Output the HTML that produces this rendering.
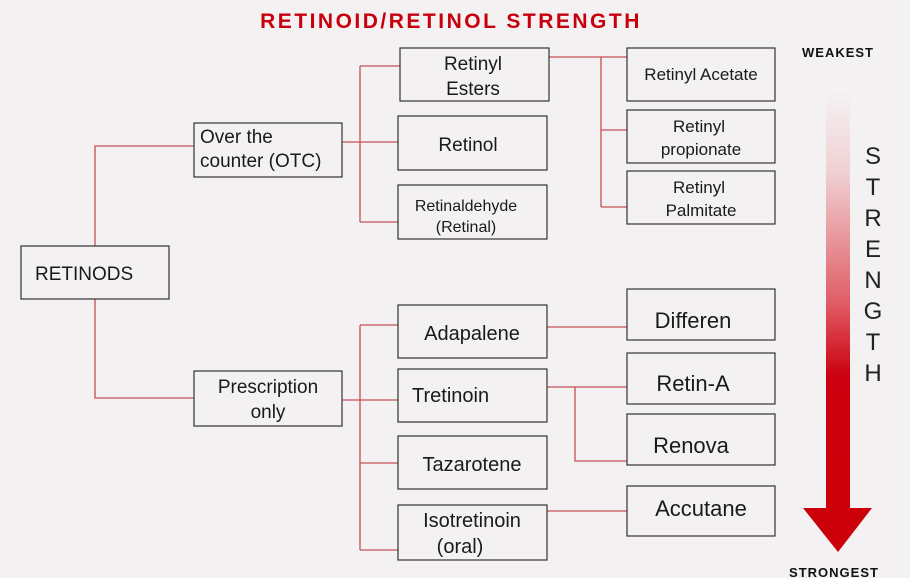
<!DOCTYPE html>
<html><head><meta charset="utf-8"><style>
html,body{margin:0;padding:0;background:#f3f1f2;}
svg{display:block;font-family:"Liberation Sans","DejaVu Sans",sans-serif;}
</style></head><body>
<svg width="910" height="578" viewBox="0 0 910 578" xmlns="http://www.w3.org/2000/svg">
<defs>
<linearGradient id="g" x1="0" y1="0" x2="0" y2="1">
<stop offset="0" stop-color="#f5f3f4"/>
<stop offset="0.2" stop-color="#f0d0d3"/>
<stop offset="0.5" stop-color="#e06068"/>
<stop offset="0.68" stop-color="#cc0010"/>
<stop offset="1" stop-color="#cc0008"/>
</linearGradient>
</defs>
<rect width="910" height="578" fill="#f3f1f2"/>
<text x="451" y="28" text-anchor="middle" font-size="21" font-weight="bold" fill="#c8000e" letter-spacing="2.5">RETINOID/RETINOL STRENGTH</text>
<g stroke="#c45055" stroke-width="1.3" fill="none">
<path d="M95 246V146H194M95 299V398H194"/>
<path d="M342 142H398M360 66V222M360 66H400M360 222H398"/>
<path d="M342 400H398M360 325V550M360 325H398M360 463H398M360 550H398"/>
<path d="M549 57H627M601 57V207M601 130H627M601 207H627"/>
<path d="M547 327H627M547 387H627M575 387V461H627M547 511H627"/>
</g>
<g fill="#f3f1f2" stroke="#333" stroke-width="1.2">
<rect x="21" y="246" width="148" height="53"/>
<rect x="194" y="123" width="148" height="54"/>
<rect x="194" y="371" width="148" height="55"/>
<rect x="400" y="48" width="149" height="53"/>
<rect x="398" y="116" width="149" height="54"/>
<rect x="398" y="185" width="149" height="54"/>
<rect x="398" y="305" width="149" height="53"/>
<rect x="398" y="369" width="149" height="53"/>
<rect x="398" y="436" width="149" height="53"/>
<rect x="398" y="505" width="149" height="55"/>
<rect x="627" y="48" width="148" height="53"/>
<rect x="627" y="110" width="148" height="53"/>
<rect x="627" y="171" width="148" height="53"/>
<rect x="627" y="289" width="148" height="51"/>
<rect x="627" y="353" width="148" height="51"/>
<rect x="627" y="414" width="148" height="51"/>
<rect x="627" y="486" width="148" height="50"/>
</g>
<g fill="#1a1a1a" font-size="19">
<text x="35" y="280">RETINODS</text>
<text x="200" y="143">Over the</text>
<text x="200" y="167">counter (OTC)</text>
<text x="268" y="393" text-anchor="middle">Prescription</text>
<text x="268" y="418" text-anchor="middle">only</text>
<text x="473" y="70" text-anchor="middle">Retinyl</text>
<text x="473" y="95" text-anchor="middle">Esters</text>
<text x="468" y="151" text-anchor="middle">Retinol</text>
<text x="466" y="211" text-anchor="middle" font-size="16">Retinaldehyde</text>
<text x="466" y="232" text-anchor="middle" font-size="16">(Retinal)</text>
<text x="472" y="340" text-anchor="middle" font-size="20">Adapalene</text>
<text x="412" y="402" font-size="20">Tretinoin</text>
<text x="472" y="471" text-anchor="middle" font-size="20">Tazarotene</text>
<text x="472" y="527" text-anchor="middle" font-size="20">Isotretinoin</text>
<text x="460" y="553" text-anchor="middle" font-size="20">(oral)</text>
<text x="701" y="80" text-anchor="middle" font-size="17">Retinyl Acetate</text>
<text x="699" y="132" text-anchor="middle" font-size="17">Retinyl</text>
<text x="701" y="155" text-anchor="middle" font-size="17">propionate</text>
<text x="699" y="193" text-anchor="middle" font-size="17">Retinyl</text>
<text x="701" y="216" text-anchor="middle" font-size="17">Palmitate</text>
<text x="693" y="328" text-anchor="middle" font-size="22">Differen</text>
<text x="693" y="391" text-anchor="middle" font-size="22">Retin-A</text>
<text x="691" y="453" text-anchor="middle" font-size="22">Renova</text>
<text x="701" y="516" text-anchor="middle" font-size="22">Accutane</text>
</g>
<text x="838" y="57" text-anchor="middle" font-size="13" font-weight="bold" fill="#111" letter-spacing="1">WEAKEST</text>
<text x="834" y="577" text-anchor="middle" font-size="13" font-weight="bold" fill="#111" letter-spacing="1">STRONGEST</text>
<rect x="826" y="88" width="24" height="424" fill="url(#g)"/>
<polygon points="803,508 872,508 838,552" fill="#cc0008"/>
<g font-size="24" fill="#222" text-anchor="middle">
<text x="873" y="164">S</text>
<text x="873" y="195">T</text>
<text x="873" y="226">R</text>
<text x="873" y="257">E</text>
<text x="873" y="288">N</text>
<text x="873" y="319">G</text>
<text x="873" y="350">T</text>
<text x="873" y="381">H</text>
</g>
</svg>
</body></html>
